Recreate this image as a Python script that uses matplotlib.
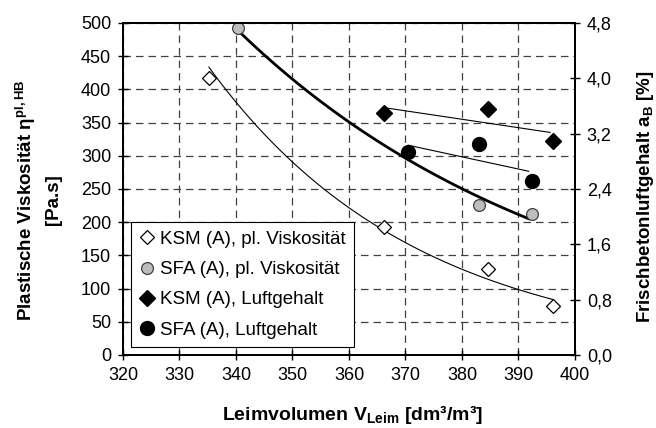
import numpy as np
import matplotlib.pyplot as plt
from matplotlib.ticker import FuncFormatter, MultipleLocator
from matplotlib.lines import Line2D

plt.rcParams["font.family"] = "Liberation Sans"
plt.rcParams["mathtext.fontset"] = "custom"
plt.rcParams["mathtext.rm"] = "Liberation Sans"
plt.rcParams["mathtext.bf"] = "Liberation Sans:bold"
plt.rcParams["mathtext.default"] = "bf"

# Leimvolumen [dm3/m3] and measured values
ksm_leim = [335.2, 366.2, 384.6, 396.1]
ksm_visk = [417, 193, 130, 74]
ksm_luft = [None, 3.50, 3.55, 3.09]

sfa_leim = [340.4, 370.5, 383.0, 392.4]
sfa_visk = [493, None, 226, 212]
sfa_luft = [None, 2.93, 3.05, 2.51]


def pick(xs, ys):
    pts = [(x, y) for x, y in zip(xs, ys) if y is not None]
    return np.array([p[0] for p in pts]), np.array([p[1] for p in pts])


fig = plt.figure(figsize=(6.56, 4.28), dpi=100)
ax = fig.add_axes([0.1875, 0.1706, 0.689, 0.7757])
ax2 = ax.twinx()

ax.set_xlim(320, 400)
ax.set_ylim(0, 500)
ax2.set_ylim(0, 4.8)
ax.xaxis.set_major_locator(MultipleLocator(10))
ax.yaxis.set_major_locator(MultipleLocator(50))
ax2.yaxis.set_major_locator(MultipleLocator(0.8))
ax2.yaxis.set_major_formatter(FuncFormatter(lambda v, p: f"{v:.1f}".replace(".", ",")))

ax.grid(True, color="#404040", linestyle=(0, (6, 4)), linewidth=0.9)
ax.set_axisbelow(True)

for a in (ax, ax2):
    for s in a.spines.values():
        s.set_linewidth(1.4)
    a.tick_params(direction="inout", length=7, width=1, labelsize=13, pad=5)

# viscosity: exponential trend lines
x, y = pick(ksm_leim, ksm_visk)
b, a0 = np.polyfit(x, np.log(y), 1)
xf = np.linspace(x.min(), x.max(), 100)
ax.plot(xf, np.exp(a0 + b * xf), color="black", lw=0.8, zorder=3)
ax.plot(x, y, "D", ms=7, mfc="white", mec="black", mew=0.9, zorder=4)

x, y = pick(sfa_leim, sfa_visk)
b, a0 = np.polyfit(x, np.log(y), 1)
xf = np.linspace(x.min(), x.max() - 0.6, 100)
ax.plot(xf, np.exp(a0 + b * xf), color="black", lw=2, zorder=3)
ax.plot(x, y, "o", ms=8.5, mfc="#bdbdbd", mec="#404040", mew=0.9, zorder=4)

# air content: linear trend lines
x, y = pick(ksm_leim, ksm_luft)
k, d = np.polyfit(x, y, 1)
xf = np.array([x.min() + 0.5, x.max() - 0.5])
ax2.plot(xf, k * xf + d, color="black", lw=0.8, zorder=3)
ax2.plot(x, y, "D", ms=8, color="black", zorder=4)

x, y = pick(sfa_leim, sfa_luft)
k, d = np.polyfit(x, y, 1)
xf = np.array([x.min(), x.max() - 0.6])
ax2.plot(xf, k * xf + d, color="black", lw=0.8, zorder=3)
ax2.plot(x, y, "o", ms=10, color="black", zorder=4)

ax.set_xlabel("Leimvolumen V$_{Leim}$ [dm³/m³]", fontsize=14, fontweight="bold")
ax.set_ylabel("Plastische Viskosität η$^{pl,HB}$\n[Pa.s]", fontsize=13.5, fontweight="bold",
              linespacing=1.5)
ax2.set_ylabel("Frischbetonluftgehalt a$_{B}$ [%]", fontsize=13.5, fontweight="bold")
ax.xaxis.set_label_coords(0.508, -0.145)
ax.yaxis.set_label_coords(-0.135, 0.467)
ax2.yaxis.set_label_coords(1.133, 0.477)

handles = [
    Line2D([], [], ls="none", marker="D", ms=7, mfc="white", mec="black", mew=0.9),
    Line2D([], [], ls="none", marker="o", ms=8.5, mfc="#bdbdbd", mec="#404040", mew=0.9),
    Line2D([], [], ls="none", marker="D", ms=8, color="black"),
    Line2D([], [], ls="none", marker="o", ms=10, color="black"),
]
labels = ["KSM (A), pl. Viskosität", "SFA (A), pl. Viskosität",
          "KSM (A), Luftgehalt", "SFA (A), Luftgehalt"]
leg = ax2.legend(handles, labels, loc="lower left", bbox_to_anchor=(0.018, 0.024),
                 borderaxespad=0, fancybox=False, framealpha=1, edgecolor="black",
                 fontsize=13.5, handlelength=0.8, handletextpad=0.3, labelspacing=0.7,
                 borderpad=0.45)
leg.get_frame().set_linewidth(0.8)

fig.savefig("out.png", dpi=100)
